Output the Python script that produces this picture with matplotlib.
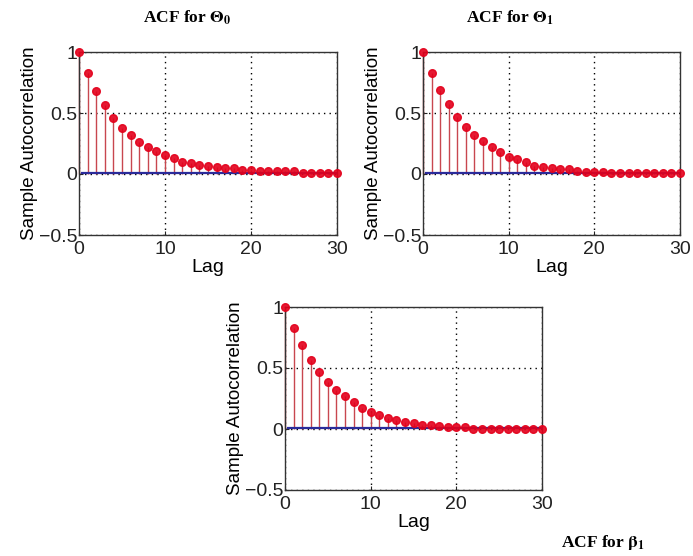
import matplotlib
matplotlib.use("Agg")
import matplotlib.pyplot as plt
import numpy as np

plt.rcParams['font.family'] = ['Liberation Sans', 'DejaVu Sans']
plt.rcParams['mathtext.fontset'] = 'stix'

lags = list(range(31))
acf_theta0 = [1.0, 0.826, 0.68, 0.565, 0.46, 0.38, 0.322, 0.262, 0.218, 0.185, 0.152,
              0.13, 0.10, 0.091, 0.077, 0.066, 0.058, 0.047, 0.047, 0.036, 0.036,
              0.025, 0.025, 0.025, 0.025, 0.022, 0.011, 0.011, 0.011, 0.011, 0.011]
acf_theta1 = [1.0, 0.828, 0.686, 0.572, 0.467, 0.386, 0.317, 0.27, 0.222, 0.178, 0.142,
              0.122, 0.097, 0.069, 0.061, 0.053, 0.042, 0.042, 0.028, 0.017, 0.017,
              0.017, 0.006, 0.006, 0.006, 0.006, 0.006, 0.006, 0.006, 0.006, 0.006]
acf_beta1 = [1.0, 0.825, 0.686, 0.569, 0.467, 0.386, 0.317, 0.269, 0.222, 0.175, 0.139,
             0.117, 0.094, 0.072, 0.058, 0.047, 0.036, 0.036, 0.025, 0.014, 0.014,
             0.014, 0.003, 0.003, 0.003, 0.003, 0.003, 0.003, 0.003, 0.003, 0.003]

titles = [r'ACF for $\mathbf{\Theta_0}$', r'ACF for $\mathbf{\Theta_1}$', r'ACF for $\mathbf{\beta_1}$']
xticks = [0, 10, 20, 30]
yticks = [-0.5, 0, 0.5, 1]
yticklabels = ['\u22120.5', '0', '0.5', '1']

W, H = 693, 556
fig = plt.figure(figsize=(W / 100, H / 100), dpi=100)

def px_axes(left, top, right, bottom):
    return fig.add_axes([left / W, 1 - bottom / H, (right - left) / W, (bottom - top) / H])

axes = [px_axes(79, 52, 337, 235), px_axes(423, 52, 680, 235), px_axes(285, 307, 542, 490)]
series = [acf_theta0, acf_theta1, acf_beta1]
title_pos = [(187, 18), (510, 18), (603, 543)]

for ax, vals, t, (tx, ty) in zip(axes, series, titles, title_pos):
    ax.vlines(lags, 0, vals, color='#c8474f', lw=1.0, zorder=2, clip_on=False)
    ax.plot([0.4, 30], [0.01, 0.01], color='#2b2b9a', lw=1.6, zorder=3)
    ax.plot(lags, vals, 'o', color='#e3001b', ms=5.5, zorder=4, alpha=0.9, clip_on=False)
    ax.set_xlim(0, 30)
    ax.set_ylim(-0.5, 1)
    ax.set_xticks(xticks)
    ax.set_yticks(yticks)
    ax.set_yticklabels(yticklabels)
    ax.grid(True, linestyle=(0, (1, 3)), color='black', lw=1.0)
    ax.set_axisbelow(True)
    ax.tick_params(direction='in', length=3, labelsize=14, colors='#222222')
    ax.tick_params(axis='x', pad=4)
    ax.tick_params(axis='y', pad=1)
    for s in ax.spines.values():
        s.set_color('#333333')
        s.set_linewidth(1.0)
    ax.set_xlabel('Lag', fontsize=14, labelpad=1)
    ax.set_ylabel('Sample Autocorrelation', fontsize=13.5, labelpad=1)
    fig.text(tx / W, 1 - ty / H, t, ha='center', va='center', fontsize=12.5,
             family='Liberation Serif', weight='bold')

fig.savefig('out.png', dpi=100)
